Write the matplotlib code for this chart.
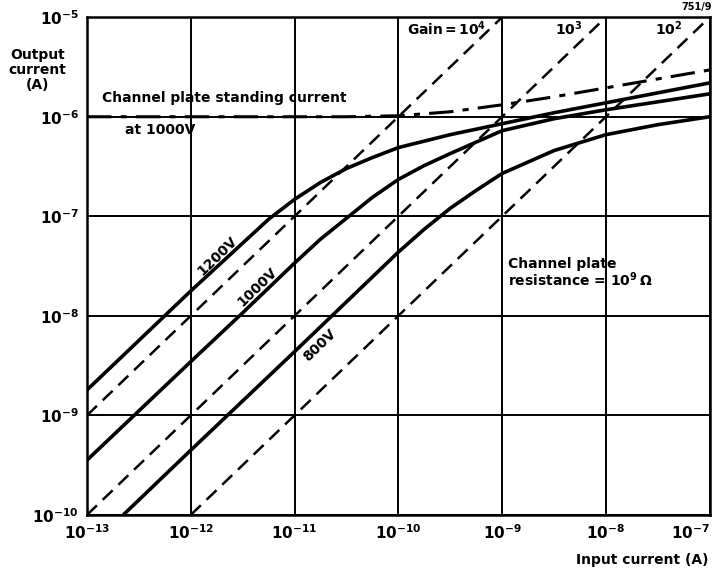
import numpy as np
import matplotlib
matplotlib.use("Agg")
import matplotlib.pyplot as plt

# -------- donnees (log10 des courants) --------

x_1200 = [-13.0, -12.0, -11.5, -11.25, -11.0, -10.75, -10.5, -10.25, -10.0, -9.5, -9.0, -8.5, -8.0, -7.5, -7.0]
y_1200 = [-8.745, -7.75, -7.27, -7.03, -6.83, -6.66, -6.52, -6.41, -6.31, -6.18, -6.07, -5.96, -5.86, -5.76, -5.66]

x_1000 = [-13.0, -12.0, -11.5, -11.0, -10.75, -10.5, -10.25, -10.0, -9.75, -9.5, -9.0, -8.5, -8.0, -7.5, -7.0]
y_1000 = [-9.45, -8.46, -7.97, -7.47, -7.23, -7.02, -6.81, -6.63, -6.49, -6.37, -6.14, -6.02, -5.93, -5.85, -5.77]

x_800 = [-12.65, -12.0, -11.0, -10.5, -10.0, -9.75, -9.5, -9.25, -9.0, -8.5, -8.0, -7.5, -7.0]
y_800 = [-10.0, -9.35, -8.36, -7.86, -7.36, -7.13, -6.92, -6.74, -6.57, -6.34, -6.18, -6.08, -6.0]

x_standing = [-13.0, -12.0, -11.0, -10.5, -10.0, -9.5, -9.0, -8.5, -8.0, -7.5, -7.0]
y_standing = [-6.0, -6.0, -6.0, -6.0, -5.99, -5.95, -5.88, -5.80, -5.71, -5.62, -5.53]

gains = [1e4, 1e3, 1e2]
x_range = [1e-13, 1e-7]

x_ticks = [1e-13, 1e-12, 1e-11, 1e-10, 1e-9, 1e-8, 1e-7]
x_ticklabels = [r"$\mathbf{10^{-13}}$", r"$\mathbf{10^{-12}}$", r"$\mathbf{10^{-11}}$",
                r"$\mathbf{10^{-10}}$", r"$\mathbf{10^{-9}}$", r"$\mathbf{10^{-8}}$",
                r"$\mathbf{10^{-7}}$"]
y_ticks = [1e-10, 1e-9, 1e-8, 1e-7, 1e-6, 1e-5]
y_ticklabels = [r"$\mathbf{10^{-10}}$", r"$\mathbf{10^{-9}}$", r"$\mathbf{10^{-8}}$",
                r"$\mathbf{10^{-7}}$", r"$\mathbf{10^{-6}}$", r"$\mathbf{10^{-5}}$"]


def p10(v):
    return 10.0 ** np.asarray(v)


plt.rcParams["font.family"] = ["DejaVu Sans"]
plt.rcParams["mathtext.fontset"] = "dejavusans"

fig = plt.figure(figsize=(7.19, 5.74), dpi=100)
ax = fig.add_axes([0.121, 0.103, 0.866, 0.867])
ax.set_xscale("log")
ax.set_yscale("log")
ax.set_xlim(1e-13, 1e-7)
ax.set_ylim(1e-10, 1e-5)

ax.set_xticks(x_ticks)
ax.set_xticklabels(x_ticklabels, fontsize=11)
ax.set_yticks(y_ticks)
ax.set_yticklabels(y_ticklabels, fontsize=11)
ax.minorticks_off()
ax.tick_params(length=0, pad=6)
ax.get_xticklabels()[-1].set_horizontalalignment("right")
ax.grid(True, which="major", color="black", linewidth=1.4)
for s in ax.spines.values():
    s.set_linewidth(1.8)

# droites de gain
for g in gains:
    ax.plot(x_range, [g * x_range[0], g * x_range[1]], color="black",
            linewidth=1.8, dashes=(5.5, 3.2))

# courbes de sortie
for xs, ys in [(x_1200, y_1200), (x_1000, y_1000), (x_800, y_800)]:
    ax.plot(p10(xs), p10(ys), color="black", linewidth=2.6,
            solid_capstyle="butt", solid_joinstyle="round")

ax.plot(p10(x_standing), p10(y_standing), color="black", linewidth=2.2,
        dashes=(8, 3, 2, 3))

txt = dict(fontsize=10, fontweight="bold", color="black")
ax.text(1.4e-13, 1.55e-6, "Channel plate standing current", va="center", **txt)
ax.text(2.3e-13, 7.4e-7, "at 1000V", va="center", **txt)
ax.text(1.2e-10, 7.6e-6, r"Gain$\,$=$\,\mathbf{10^{4}}$", va="center", **txt)
ax.text(3.2e-9, 7.6e-6, r"$\mathbf{10^{3}}$", va="center", **txt)
ax.text(2.95e-8, 7.6e-6, r"$\mathbf{10^{2}}$", va="center", **txt)
ax.text(1.14e-9, 3.9e-8, "Channel plate\nresistance = $\\mathbf{10^{9}}\\,\\mathbf{\\Omega}$",
        va="top", ha="left", linespacing=0.95, **txt)

ax.text(1.8e-12, 4.0e-8, "1200V", rotation=44, rotation_mode="anchor",
        ha="center", va="center", **txt)
ax.text(4.4e-12, 1.95e-8, "1000V", rotation=44, rotation_mode="anchor",
        ha="center", va="center", **txt)
ax.text(1.76e-11, 5.1e-9, "800V", rotation=44, rotation_mode="anchor",
        ha="center", va="center", **txt)

fig.text(0.052, 0.878, "Output\ncurrent\n(A)", ha="center", va="center",
         linespacing=1.1, **txt)
fig.text(0.985, 0.025, "Input current (A)", ha="right", va="center", **txt)
fig.text(0.99, 0.988, "751/9", ha="right", va="center", fontsize=7,
         fontweight="bold")

fig.savefig("out.png", dpi=100)
